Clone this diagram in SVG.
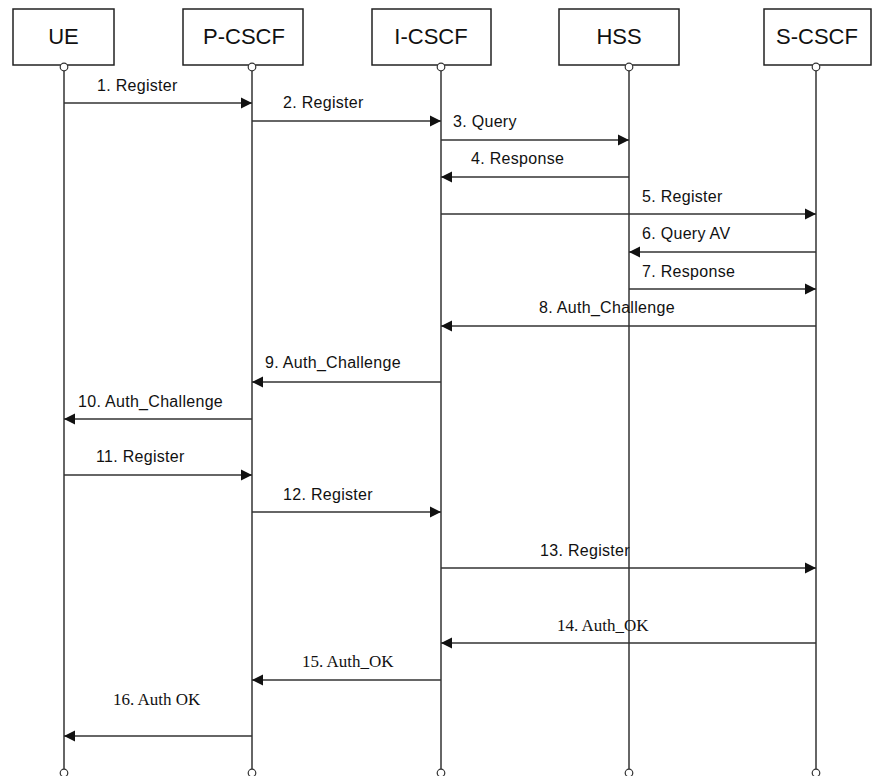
<svg xmlns="http://www.w3.org/2000/svg" width="872" height="776" viewBox="0 0 872 776">
<style>
.box{fill:#fff;stroke:#222;stroke-width:1.5}
.title{font-family:"Liberation Sans",Arial,sans-serif;font-size:22px;fill:#111;text-anchor:middle}
.life{stroke:#333;stroke-width:1.5;fill:none}
.dot{fill:#fff;stroke:#333;stroke-width:1.2}
.msg{stroke:#333;stroke-width:1.5;fill:none;marker-end:url(#ah)}
.lbl{font-family:"Liberation Sans",Arial,sans-serif;font-size:16px;fill:#111;letter-spacing:0.3px}
.lbls{font-family:"Liberation Serif","Times New Roman",serif;font-size:17px;fill:#111}
</style>
<defs>
<marker id="ah" markerUnits="userSpaceOnUse" markerWidth="11" markerHeight="12" refX="11" refY="6" orient="auto">
<path d="M0,0.5 L11,6 L0,11.5 z" fill="#111"/>
</marker>
</defs>
<rect width="872" height="776" fill="#fff"/>
<g id="UE">
<rect class="box" x="13" y="9" width="101" height="56"/>
<text class="title" x="63.5" y="44">UE</text>
<line class="life" x1="64" y1="71" x2="64" y2="769"/>
<circle class="dot" cx="64" cy="67" r="3.8"/>
<circle class="dot" cx="64" cy="773" r="3.8"/>
</g>
<g id="P-CSCF">
<rect class="box" x="183" y="9" width="120" height="56"/>
<text class="title" x="244" y="44">P-CSCF</text>
<line class="life" x1="252" y1="71" x2="252" y2="769"/>
<circle class="dot" cx="252" cy="67" r="3.8"/>
<circle class="dot" cx="252" cy="773" r="3.8"/>
</g>
<g id="I-CSCF">
<rect class="box" x="372" y="9" width="119" height="56"/>
<text class="title" x="431" y="44">I-CSCF</text>
<line class="life" x1="441" y1="71" x2="441" y2="769"/>
<circle class="dot" cx="441" cy="67" r="3.8"/>
<circle class="dot" cx="441" cy="773" r="3.8"/>
</g>
<g id="HSS">
<rect class="box" x="559" y="9" width="120" height="56"/>
<text class="title" x="619" y="44">HSS</text>
<line class="life" x1="629" y1="71" x2="629" y2="769"/>
<circle class="dot" cx="629" cy="67" r="3.8"/>
<circle class="dot" cx="629" cy="773" r="3.8"/>
</g>
<g id="S-CSCF">
<rect class="box" x="764" y="9" width="107" height="56"/>
<text class="title" x="817" y="44">S-CSCF</text>
<line class="life" x1="816" y1="71" x2="816" y2="769"/>
<circle class="dot" cx="816" cy="67" r="3.8"/>
<circle class="dot" cx="816" cy="773" r="3.8"/>
</g>
<g id="connectors">
<line class="msg" x1="64" y1="103" x2="252" y2="103"/>
<text class="lbl" x="97" y="91">1. Register</text>
<line class="msg" x1="252" y1="121" x2="441" y2="121"/>
<text class="lbl" x="283" y="108">2. Register</text>
<line class="msg" x1="441" y1="140" x2="629" y2="140"/>
<text class="lbl" x="453" y="127">3. Query</text>
<line class="msg" x1="629" y1="177" x2="441" y2="177"/>
<text class="lbl" x="471" y="164">4. Response</text>
<line class="msg" x1="441" y1="214" x2="816" y2="214"/>
<text class="lbl" x="642" y="202">5. Register</text>
<line class="msg" x1="816" y1="252" x2="629" y2="252"/>
<text class="lbl" x="642" y="239">6. Query AV</text>
<line class="msg" x1="629" y1="289" x2="816" y2="289"/>
<text class="lbl" x="642" y="277">7. Response</text>
<line class="msg" x1="816" y1="326" x2="441" y2="326"/>
<text class="lbl" x="539" y="313">8. Auth_Challenge</text>
<line class="msg" x1="441" y1="382" x2="252" y2="382"/>
<text class="lbl" x="265" y="368">9. Auth_Challenge</text>
<line class="msg" x1="252" y1="419" x2="64" y2="419"/>
<text class="lbl" x="78" y="407">10. Auth_Challenge</text>
<line class="msg" x1="64" y1="475" x2="252" y2="475"/>
<text class="lbl" x="96" y="462">11. Register</text>
<line class="msg" x1="252" y1="512" x2="441" y2="512"/>
<text class="lbl" x="283" y="500">12. Register</text>
<line class="msg" x1="441" y1="568" x2="816" y2="568"/>
<text class="lbl" x="540" y="556">13. Register</text>
<line class="msg" x1="816" y1="643" x2="441" y2="643"/>
<text class="lbls" x="557" y="631">14. Auth_OK</text>
<line class="msg" x1="441" y1="680" x2="252" y2="680"/>
<text class="lbls" x="302" y="667">15. Auth_OK</text>
<line class="msg" x1="252" y1="736" x2="64" y2="736"/>
<text class="lbls" x="113" y="705">16. Auth OK</text>
</g>
</svg>
